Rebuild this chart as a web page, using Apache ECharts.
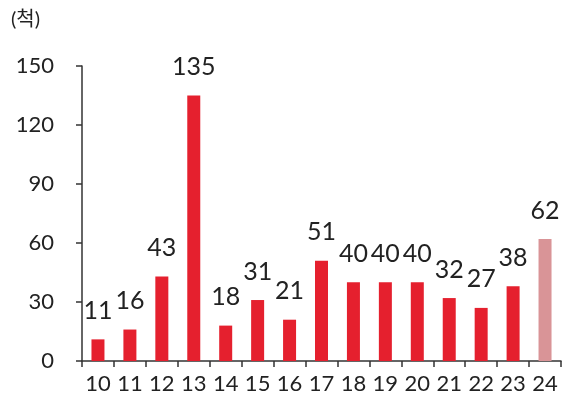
<!DOCTYPE html>
<html><head><meta charset="utf-8">
<script src="https://cdn.jsdelivr.net/npm/echarts@6/dist/echarts.min.js"></script>
<style>html,body{margin:0;padding:0;background:#fff}#c{width:582px;height:410px}</style>
</head><body><div id="c"></div>
<script>
const categories = ['10','11','12','13','14','15','16','17','18','19','20','21','22','23','24'];
const values = [11,16,43,135,18,31,21,51,40,40,40,32,27,38,62];
const yTicks = [0,30,60,90,120,150];
const unitLabel = '(척)';
const highlightIndex = 14;

const chart = echarts.init(document.getElementById('c'));
const font = 'Lato, "Noto Sans CJK KR", sans-serif';
chart.setOption({
  animation:false,
  title:{text:unitLabel,left:6,top:5,textStyle:{fontSize:20,fontWeight:'normal',color:'#222',fontFamily:font}},
  grid:{left:82,right:21,top:66,bottom:49,containLabel:false},
  xAxis:{type:'category',data:categories,
    axisLine:{lineStyle:{color:'#333',width:1.5}},
    axisTick:{show:true,length:6,lineStyle:{color:'#333',width:1.5}},
    axisLabel:{fontSize:22,color:'#222',margin:12,fontFamily:font,interval:0,hideOverlap:false}},
  yAxis:{type:'value',min:0,max:150,interval:30,
    axisLine:{show:true,lineStyle:{color:'#333',width:1.5}},
    axisTick:{show:true,length:6,lineStyle:{color:'#333',width:1.5}},
    splitLine:{show:false},
    axisLabel:{fontSize:22,color:'#222',margin:28,fontFamily:font,
      formatter:v=>yTicks.includes(v)?String(v):''}},
  series:[{type:'bar',barWidth:13,
    data:values.map((v,i)=>({value:v,itemStyle:{color:i===highlightIndex?'#d99497':'#e5202e'}})),
    label:{show:true,position:'top',distance:16,fontSize:25,color:'#222',fontFamily:font}}]
});
</script></body></html>
